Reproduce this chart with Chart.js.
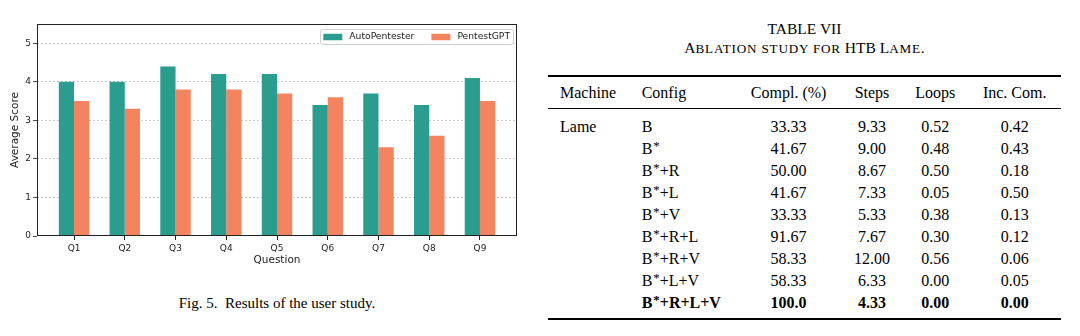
<!DOCTYPE html>
<html lang="en">
<head>
<meta charset="UTF-8">
<script src="https://cdn.jsdelivr.net/npm/chart.js"></script>
<title>User study results and ablation table</title>
<style>
    body { margin: 0; background: #fff; width: 1080px; height: 336px; overflow: hidden; position: relative; font-family: "Liberation Serif", "Times New Roman", serif; color: #000; }
    #chartBox { position: absolute; left: 0; top: 0; width: 540px; height: 290px; }
    .caption { position: absolute; top: 293px; left: 0; width: 554px; text-align: center; font-size: 15px; line-height: 20px; }
    .cell { position: absolute; white-space: nowrap; font-size: 16px; line-height: 22px; }
    .rule { position: absolute; left: 548px; width: 513px; background: #000; }
    .ttl { position: absolute; left: 548px; width: 513px; text-align: center; font-size: 15.5px; line-height: 20px; }
    .sc { font-size: 0.85em; letter-spacing: 0.8px; }
    sup { font-size: 0.8em; vertical-align: 0.3em; line-height: 0; margin-left: 1px; }
</style>
</head>
<body>
    <div id="chartBox"><canvas id="userChart" width="540" height="290"></canvas></div>
    <div class="caption">Fig. 5.&nbsp;&nbsp;Results of the user study.</div>

    <div class="ttl" style="top:19px">TABLE VII</div>
    <div class="ttl" style="top:38px">A<span class="sc">BLATION STUDY FOR</span> HTB L<span class="sc">AME</span>.</div>
    <div class="rule" style="top:75px; height:2px"></div>
    <div class="rule" style="top:108px; height:1px"></div>
    <div class="rule" style="top:318px; height:2px"></div>
    <div id="tableBox"></div>

<script>
// chart data
const questions = ['Q1', 'Q2', 'Q3', 'Q4', 'Q5', 'Q6', 'Q7', 'Q8', 'Q9'];
const autoPentester = [4.0, 4.0, 4.4, 4.2, 4.2, 3.4, 3.7, 3.4, 4.1];
const pentestGPT = [3.5, 3.3, 3.8, 3.8, 3.7, 3.6, 2.3, 2.6, 3.5];
const yTicks = [0, 1, 2, 3, 4, 5];

// table data
const tableHeader = ['Machine', 'Config', 'Compl. (%)', 'Steps', 'Loops', 'Inc. Com.'];
const machines = ['Lame'];
const configs = ['B', 'B*', 'B*+R', 'B*+L', 'B*+V', 'B*+R+L', 'B*+R+V', 'B*+L+V', 'B*+R+L+V'];
const completion = ['33.33', '41.67', '50.00', '41.67', '33.33', '91.67', '58.33', '58.33', '100.0'];
const steps = ['9.33', '9.00', '8.67', '7.33', '5.33', '7.67', '12.00', '6.33', '4.33'];
const loops = ['0.52', '0.48', '0.50', '0.05', '0.38', '0.30', '0.56', '0.00', '0.00'];
const incCom = ['0.42', '0.43', '0.18', '0.50', '0.13', '0.12', '0.06', '0.05', '0.00'];

const GREEN = '#2a9d8f';
const ORANGE = '#f4845f';
const INK = '#222';

// frame round the plot + legend box inside the top right corner
const framePlugin = {
    id: 'frame',
    afterDraw(chart) {
        const ctx = chart.ctx;
        const a = chart.chartArea;
        ctx.save();
        ctx.strokeStyle = INK;
        ctx.lineWidth = 1;
        ctx.strokeRect(Math.round(a.left) + 0.5, Math.round(a.top) + 0.5,
            Math.round(a.right - a.left) - 1, Math.round(a.bottom - a.top) - 1);

        // legend
        ctx.font = '9.2px "DejaVu Sans"';
        const items = chart.data.datasets.map(d => ({ label: d.label, color: d.backgroundColor }));
        const patchW = 19, patchH = 6.5, gap = 7, itemGap = 17, pad = 3;
        let total = pad * 2;
        items.forEach((it, i) => {
            it.w = ctx.measureText(it.label).width;
            total += patchW + gap + it.w + (i < items.length - 1 ? itemGap : 0);
        });
        const boxTop = a.top + 5, boxH = 15;
        let x = a.right - 4 - total;
        ctx.fillStyle = 'rgba(255,255,255,0.85)';
        ctx.strokeStyle = '#d0d0d0';
        ctx.beginPath();
        ctx.roundRect(Math.round(x) + 0.5, boxTop + 0.5, Math.round(total), boxH, 2);
        ctx.fill();
        ctx.stroke();
        x += pad;
        const midY = boxTop + boxH / 2 + 0.5;
        items.forEach(it => {
            ctx.fillStyle = it.color;
            ctx.fillRect(x, midY - patchH / 2, patchW, patchH);
            x += patchW + gap;
            ctx.fillStyle = INK;
            ctx.textBaseline = 'middle';
            ctx.fillText(it.label, x, midY);
            x += it.w + itemGap;
        });
        ctx.restore();
    }
};

new Chart(document.getElementById('userChart'), {
    type: 'bar',
    data: {
        datasets: [
            {
                label: 'AutoPentester',
                data: questions.map((q, i) => ({ x: i, y: autoPentester[i] })),
                backgroundColor: GREEN,
                borderWidth: 0,
                categoryPercentage: 0.6,
                barPercentage: 1.0
            },
            {
                label: 'PentestGPT',
                data: questions.map((q, i) => ({ x: i, y: pentestGPT[i] })),
                backgroundColor: ORANGE,
                borderWidth: 0,
                categoryPercentage: 0.6,
                barPercentage: 1.0
            }
        ]
    },
    options: {
        responsive: false,
        animation: false,
        devicePixelRatio: 1,
        layout: { padding: { left: 0, top: 24, right: 23, bottom: 23 } },
        plugins: { legend: { display: false }, tooltip: { enabled: false } },
        scales: {
            x: {
                type: 'linear',
                min: -0.73,
                max: 8.73,
                offset: false,
                afterBuildTicks: s => { s.ticks = questions.map((q, i) => ({ value: i })); },
                afterFit: s => { s.height = 31; },
                ticks: {
                    callback: v => questions[v],
                    font: { family: 'DejaVu Sans', size: 9 },
                    color: INK,
                    padding: 3,
                    maxRotation: 0,
                    autoSkip: false
                },
                grid: { offset: false, drawOnChartArea: false, drawTicks: true, tickLength: 4, tickColor: INK },
                border: { display: false },
                title: {
                    display: true,
                    text: 'Question',
                    font: { family: 'DejaVu Sans', size: 10.5 },
                    color: INK,
                    padding: { top: 0, bottom: 0 }
                }
            },
            y: {
                min: 0,
                max: 5.5,
                afterBuildTicks: s => { s.ticks = yTicks.map(v => ({ value: v })); },
                afterFit: s => { s.width = 37; },
                ticks: {
                    font: { family: 'DejaVu Sans', size: 9 },
                    color: INK,
                    padding: 2
                },
                grid: {
                    color: c => (c.tick && c.tick.value === 0) ? 'rgba(0,0,0,0)' : '#bdbdbd',
                    lineWidth: 0.8,
                    tickLength: 4,
                    tickColor: INK
                },
                border: { display: false, dash: [2, 2] },
                title: {
                    display: true,
                    text: 'Average Score',
                    font: { family: 'DejaVu Sans', size: 10.5 },
                    color: INK,
                    padding: { top: 9, bottom: 0 }
                }
            }
        }
    },
    plugins: [framePlugin]
});

// table
const cols = [
    { x: 560, align: 'left' },
    { x: 641.7, align: 'left' },
    { x: 788.6, align: 'center' },
    { x: 872, align: 'center' },
    { x: 935.3, align: 'center' },
    { x: 1014.7, align: 'center' }
];
const box = document.getElementById('tableBox');

function fmtConfig(s) {
    return s.replace(/\*/g, '<sup>*</sup>');
}

function addCell(col, centerY, html, bold) {
    const d = document.createElement('div');
    d.className = 'cell';
    d.style.top = (centerY - 11) + 'px';
    if (col.align === 'left') {
        d.style.left = col.x + 'px';
    } else {
        d.style.left = (col.x - 60) + 'px';
        d.style.width = '120px';
        d.style.textAlign = 'center';
    }
    if (bold) d.style.fontWeight = 'bold';
    d.innerHTML = html;
    box.appendChild(d);
}

tableHeader.forEach((h, c) => addCell(cols[c], 92.5, h, false));
configs.forEach((cfg, r) => {
    const y = 126.7 + 22 * r;
    const bold = r === configs.length - 1;
    if (r === 0) addCell(cols[0], y, machines[0], false);
    addCell(cols[1], y, fmtConfig(cfg), bold);
    addCell(cols[2], y, completion[r], bold);
    addCell(cols[3], y, steps[r], bold);
    addCell(cols[4], y, loops[r], bold);
    addCell(cols[5], y, incCom[r], bold);
});
</script>
</body>
</html>
